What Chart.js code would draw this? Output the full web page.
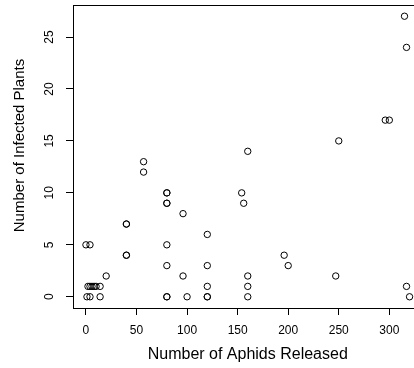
<!DOCTYPE html>
<html>
<head>
<meta charset="utf-8">
<script src="https://cdn.jsdelivr.net/npm/chart.js@4"></script>
<style>
  html, body { margin: 0; padding: 0; overflow: hidden; background: #fff; width: 414px; height: 368px; }
  #wrap { position: relative; width: 440px; height: 368px; }
</style>
</head>
<body>
<div id="wrap"><canvas id="c" width="440" height="368"></canvas></div>
<script>
// Data
const aphidsReleased = [0, 4, 2, 4, 6, 8, 10, 14, 1, 4, 14, 20, 40, 40, 40, 40, 57, 57,
  80, 80, 80, 80, 80, 80, 80, 80, 96, 96, 100, 120, 120, 120, 120, 120,
  154, 156, 160, 160, 160, 160, 196, 200, 247, 250, 296, 300, 315, 317, 317, 320];
const infectedPlants = [5, 5, 1, 1, 1, 1, 1, 1, 0, 0, 0, 2, 7, 7, 4, 4, 13, 12,
  10, 10, 9, 9, 5, 3, 0, 0, 8, 2, 0, 6, 3, 1, 0, 0,
  10, 9, 14, 2, 1, 0, 4, 3, 2, 15, 17, 17, 27, 24, 1, 0];
const xTicks = [0, 50, 100, 150, 200, 250, 300];
const yTicks = [0, 5, 10, 15, 20, 25];
const xTitle = 'Number of Aphids Released';
const yTitle = 'Number of Infected Plants';

const points = aphidsReleased.map((x, i) => ({ x: x, y: infectedPlants[i] }));

const xMaxData = Math.max(...aphidsReleased), xMinData = Math.min(...aphidsReleased);
const yMaxData = Math.max(...infectedPlants), yMinData = Math.min(...infectedPlants);
const xPad = (xMaxData - xMinData) * 0.04, yPad = (yMaxData - yMinData) * 0.04;

const FONT = "'Liberation Sans', Arial, Helvetica, sans-serif";

const boxPlugin = {
  id: 'box',
  afterDraw(chart) {
    const { ctx, chartArea: a } = chart;
    ctx.save();
    ctx.strokeStyle = '#000';
    ctx.lineWidth = 1;
    ctx.strokeRect(Math.round(a.left) + 0.5, Math.round(a.top) + 0.5,
      Math.round(a.right - a.left), Math.round(a.bottom - a.top));
    // y axis title (rotated, reading upward)
    ctx.fillStyle = '#000';
    ctx.font = '15px ' + FONT;
    ctx.textAlign = 'center';
    ctx.textBaseline = 'middle';
    ctx.translate(20, (a.top + a.bottom) / 2 - 11);
    ctx.rotate(-Math.PI / 2);
    ctx.fillText(yTitle, 0, 0);
    ctx.restore();
  }
};

new Chart(document.getElementById('c'), {
  type: 'scatter',
  data: {
    datasets: [{
      data: points,
      pointStyle: 'circle',
      pointRadius: 3.2,
      pointHoverRadius: 3.2,
      borderColor: '#000',
      backgroundColor: 'rgba(0,0,0,0)',
      borderWidth: 1
    }]
  },
  options: {
    responsive: false,
    animation: false,
    events: [],
    layout: { padding: { left: 0, top: 5, right: 17.5, bottom: 0 } },
    plugins: { legend: { display: false }, tooltip: { enabled: false } },
    scales: {
      x: {
        type: 'linear',
        min: xMinData - xPad,
        max: xMaxData + xPad,
        afterBuildTicks: s => { s.ticks = xTicks.map(v => ({ value: v })); },
        afterFit: s => { s.height = 60; s.paddingLeft = 0; s.paddingRight = 0; },
        grid: { display: true, drawOnChartArea: false, drawTicks: true, tickLength: 7, color: '#000', lineWidth: 1 },
        border: { display: true, color: '#000', width: 1 },
        ticks: { color: '#000', font: { family: FONT, size: 12 }, padding: 8, maxRotation: 0, minRotation: 0, autoSkip: false },
        title: { display: true, text: xTitle, color: '#000', font: { family: FONT, size: 16 }, padding: { top: 0, bottom: 3.4 } }
      },
      y: {
        type: 'linear',
        min: yMinData - yPad,
        max: yMaxData + yPad,
        afterBuildTicks: s => { s.ticks = yTicks.map(v => ({ value: v })); },
        afterFit: s => { s.width = 73; s.paddingTop = 0; s.paddingBottom = 0; },
        grid: { display: true, drawOnChartArea: false, drawTicks: true, tickLength: 7, color: '#000', lineWidth: 1 },
        border: { display: true, color: '#000', width: 1 },
        ticks: { color: '#000', font: { family: FONT, size: 12 }, padding: 10, minRotation: 90, maxRotation: 90, crossAlign: 'center', autoSkip: false },
        title: { display: false, text: yTitle }
      }
    }
  },
  plugins: [boxPlugin]
});
</script>
</body>
</html>
